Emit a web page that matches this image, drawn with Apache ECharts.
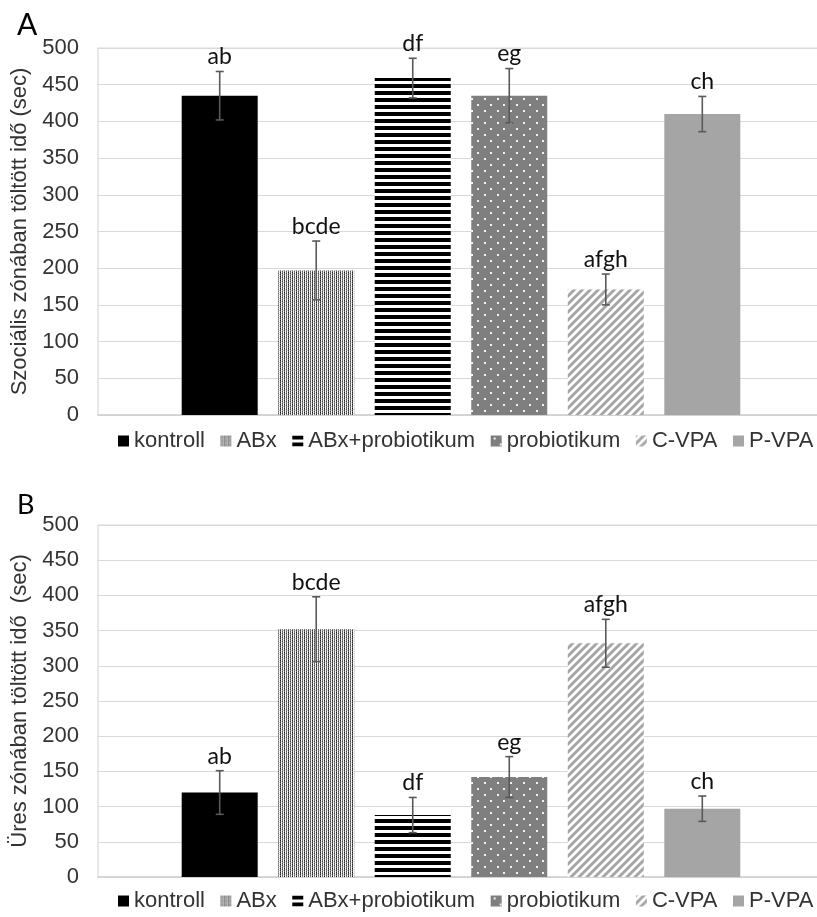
<!DOCTYPE html>
<html>
<head>
<meta charset="utf-8">
<script src="https://cdn.jsdelivr.net/npm/echarts@6/dist/echarts.min.js"></script>
<style>
  html, body { margin: 0; padding: 0; background: #fff; }
  #chart { width: 817px; height: 917px; }
</style>
</head>
<body>
<div id="chart"></div>
<script>
// ---- data ----
const groups = ['kontroll', 'ABx', 'ABx+probiotikum', 'probiotikum', 'C-VPA', 'P-VPA'];
const yTicks = [0, 50, 100, 150, 200, 250, 300, 350, 400, 450, 500];

const socialMean = [435, 197, 459, 435, 171, 410];
const socialErr  = [33, 40, 27, 37, 21, 24];
const socialLetters = ['ab', 'bcde', 'df', 'eg', 'afgh', 'ch'];

const emptyMean = [120, 352, 88, 142, 332, 97];
const emptyErr  = [31, 46, 25, 29, 34, 18];
const emptyLetters = ['ab', 'bcde', 'df', 'eg', 'afgh', 'ch'];

const titleA = 'Szociális zónában töltött idő (sec)';
const titleB = 'Üres zónában töltött idő  (sec)';

// ---- patterns ----
function makeCanvas(w, h, draw) {
  const c = document.createElement('canvas');
  c.width = w; c.height = h;
  draw(c.getContext('2d'), w, h);
  return c;
}
const patStipple = makeCanvas(4, 4, (g) => {
  g.fillStyle = '#fff'; g.fillRect(0, 0, 4, 4);
  const cols = [['#222', '#555', '#333', '#666'], ['#fff', '#ddd', '#fff', '#eee'], ['#777', '#444', '#888', '#555'], ['#eee', '#fff', '#ccc', '#fff']];
  for (let x = 0; x < 4; x++) for (let y = 0; y < 4; y++) { g.fillStyle = cols[x][y]; g.fillRect(x, y, 1, 1); }
});
const patHStripe = makeCanvas(7, 7, (g) => {
  g.fillStyle = '#fff'; g.fillRect(0, 0, 7, 7);
  g.fillStyle = '#000'; g.fillRect(0, 0, 7, 4);
});
const patDots = makeCanvas(13, 12, (g) => {
  g.fillStyle = '#7f7f7f'; g.fillRect(0, 0, 13, 12);
  g.fillStyle = '#f2f2f2';
  g.fillRect(3, 2, 2, 2);
  g.fillRect(9, 8, 2, 2);
});
const patDiag = makeCanvas(8, 8, (g) => {
  g.fillStyle = '#fff'; g.fillRect(0, 0, 8, 8);
  g.strokeStyle = '#a6a6a6'; g.lineWidth = 3;
  g.beginPath();
  g.moveTo(-2, 10); g.lineTo(10, -2);
  g.moveTo(-2, 2); g.lineTo(2, -2);
  g.moveTo(6, 10); g.lineTo(10, 6);
  g.stroke();
});
const fills = [
  '#000000',
  { image: patStipple, repeat: 'repeat' },
  { image: patHStripe, repeat: 'repeat' },
  { image: patDots, repeat: 'repeat' },
  { image: patDiag, repeat: 'repeat' },
  '#a5a5a5'
];

// ---- layout / style ----
const BAR_W = 76;
const GAP_RATIO = 0.27;
const AXIS_FONT = "'Liberation Sans', Arial, sans-serif";
const LABEL_FONT = "Lato, sans-serif";
const TEXT_COLOR = '#333333';

function axisPair(gi, name) {
  return {
    x: {
      type: 'category', gridIndex: gi, data: [''],
      axisLine: { show: true, lineStyle: { color: '#d0d0d0', width: 1.5 } },
      axisTick: { show: false }, axisLabel: { show: false }
    },
    y: {
      type: 'value', gridIndex: gi, min: yTicks[0], max: yTicks[yTicks.length - 1],
      interval: yTicks[1] - yTicks[0],
      name: name, nameLocation: 'middle', nameGap: 64,
      nameTextStyle: { fontFamily: AXIS_FONT, fontSize: 22, color: TEXT_COLOR },
      axisLine: { show: false }, axisTick: { show: false },
      axisLabel: { fontFamily: AXIS_FONT, fontSize: 22, color: TEXT_COLOR, margin: 19 },
      splitLine: { show: true, lineStyle: { color: '#d9d9d9', width: 1.2 } }
    }
  };
}

function barSeries(gi, means) {
  return groups.map((g, i) => ({
    name: g, type: 'bar', xAxisIndex: gi, yAxisIndex: gi,
    barWidth: BAR_W, barGap: (GAP_RATIO * 100) + '%',
    itemStyle: { color: fills[i] },
    data: [means[i]],
    silent: true
  }));
}

function errSeries(gi, means, errs, letters) {
  return {
    type: 'custom', xAxisIndex: gi, yAxisIndex: gi, silent: true, z: 10,
    data: means.map((m, i) => [0, m, errs[i], i]),
    renderItem: function (params, api) {
      const i = api.value(3);
      const m = api.value(1), e = api.value(2);
      const pitch = BAR_W * (1 + GAP_RATIO);
      const off = (i - (groups.length - 1) / 2) * pitch;
      const top = api.coord([0, m + e]);
      const bot = api.coord([0, m - e]);
      const x = top[0] + off;
      const ls = { stroke: '#595959', lineWidth: 1.6 };
      return {
        type: 'group',
        children: [
          { type: 'line', shape: { x1: x, y1: top[1], x2: x, y2: bot[1] }, style: ls },
          { type: 'line', shape: { x1: x - 4, y1: top[1], x2: x + 4, y2: top[1] }, style: ls },
          { type: 'line', shape: { x1: x - 4, y1: bot[1], x2: x + 4, y2: bot[1] }, style: ls },
          { type: 'text', style: { x: x, y: top[1] - 3, text: letters[params.dataIndex], fill: '#111',
              font: '23px ' + LABEL_FONT, textAlign: 'center', textVerticalAlign: 'bottom' } }
        ]
      };
    }
  };
}

const A = axisPair(0, titleA);
const B = axisPair(1, titleB);

const legendCommon = {
  data: groups, left: 113, width: 704, icon: 'rect', itemWidth: 11, itemHeight: 11, itemGap: 15.5,
  textStyle: { fontFamily: AXIS_FONT, fontSize: 22, color: TEXT_COLOR },
  selectedMode: false
};

const chart = echarts.init(document.getElementById('chart'), null, { renderer: 'canvas' });
chart.setOption({
  animation: false,
  backgroundColor: '#fff',
  grid: [
    { left: 98, top: 48, width: 726, height: 367, show: true, borderColor: '#d9d9d9', borderWidth: 1.2, outerBoundsMode: 'none' },
    { left: 98, top: 525, width: 726, height: 352, show: true, borderColor: '#d9d9d9', borderWidth: 1.2, outerBoundsMode: 'none' }
  ],
  xAxis: [A.x, B.x],
  yAxis: [A.y, B.y],
  legend: [
    Object.assign({ top: 425 }, legendCommon),
    Object.assign({ top: 885 }, legendCommon)
  ],
  graphic: [
    { type: 'text', left: 17, top: 10, style: { text: 'A', font: '30px ' + LABEL_FONT, fill: '#000' } },
    { type: 'text', left: 17, top: 492, style: { text: 'B', font: '27px ' + LABEL_FONT, fill: '#000' } }
  ],
  series: [
    ...barSeries(0, socialMean),
    ...barSeries(1, emptyMean),
    errSeries(0, socialMean, socialErr, socialLetters),
    errSeries(1, emptyMean, emptyErr, emptyLetters)
  ]
});
</script>
</body>
</html>
